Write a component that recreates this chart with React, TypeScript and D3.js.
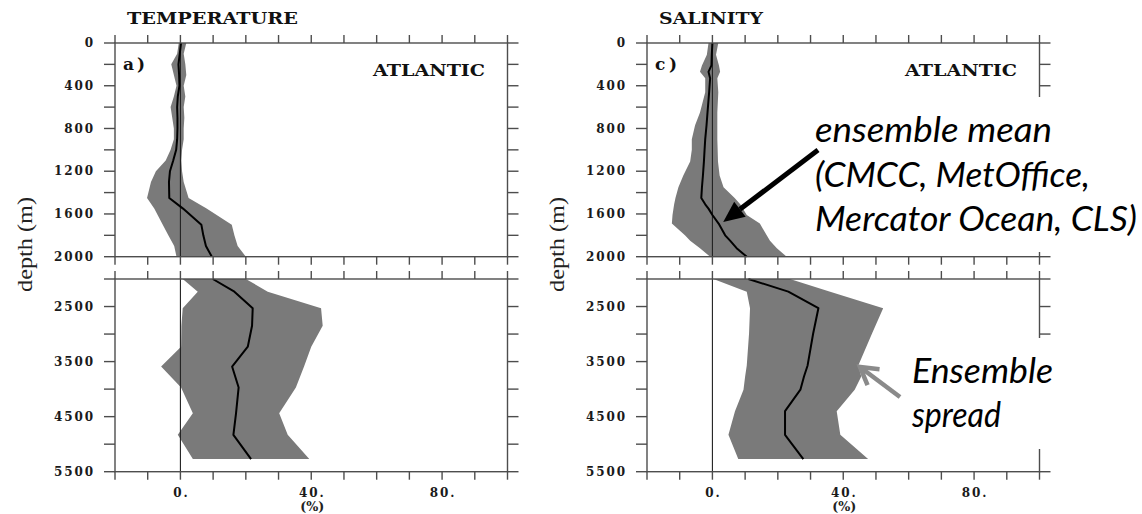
import React from 'react';
import * as d3 from 'd3';

// ---------------- DATA ----------------
// Temperature, upper section (0-2000 m)
const TEMP_TOP_DEPTH = [0, 100, 200, 300, 400, 500, 600, 700, 800, 900, 1000, 1100, 1200, 1300, 1450, 1550, 1700, 1800, 1900, 2000];
const TEMP_TOP_LOWER = [-0.5, -1.0, -2.8, -2.0, -1.2, -2.0, -3.0, -2.5, -2.0, -2.0, -3.0, -4.5, -7.5, -9.0, -10.2, -8.0, -5.4, -3.7, -1.9, -1.2];
const TEMP_TOP_MEAN = [0.2, -0.2, -0.6, -0.4, -0.3, -0.8, -1.0, -0.9, -0.9, -1.0, -1.3, -2.2, -3.2, -3.5, -3.4, 0.8, 6.4, 7.0, 7.8, 9.6];
const TEMP_TOP_UPPER = [1.8, 1.0, 1.5, 1.8, 1.0, 1.5, 1.0, 1.2, 1.0, 1.0, 0.5, 0.3, 0.5, 1.0, 2.5, 8.0, 15.7, 16.5, 17.5, 20.0];

// Temperature, lower section (2000-5500 m)
const TEMP_BOT_DEPTH = [2000, 2230, 2530, 2850, 3230, 3590, 3970, 4440, 4830, 5270];
const TEMP_BOT_LOWER = [0.7, 5.3, 0.7, 0.3, 0.2, -5.9, 0.2, 3.8, -0.8, 3.8];
const TEMP_BOT_MEAN = [9.9, 16.5, 22.1, 21.9, 20.6, 15.8, 17.8, 17.0, 16.2, 21.6];
const TEMP_BOT_UPPER = [20.0, 26.7, 43.0, 43.5, 40.0, 37.8, 35.3, 30.2, 32.8, 39.4];

// Salinity, upper section (0-2000 m)
const SAL_TOP_DEPTH = [0, 110, 210, 270, 330, 460, 650, 770, 900, 1000, 1110, 1240, 1350, 1450, 1510, 1550, 1610, 1690, 1800, 1850, 1920, 2000];
const SAL_TOP_LOWER = [-1.2, -1.7, -3.2, -3.8, -2.2, -2.2, -3.8, -5.3, -6.3, -6.3, -6.8, -8.9, -10.4, -11.3, -11.7, -11.9, -12.2, -12.4, -8.4, -6.8, -3.8, -0.7];
const SAL_TOP_MEAN = [0.0, -0.2, -0.3, -1.2, -0.7, -1.0, -1.5, -1.8, -2.2, -2.4, -2.6, -2.9, -3.2, -3.4, -2.2, -1.2, 0.0, 1.9, 3.9, 5.4, 7.4, 10.5];
const SAL_TOP_UPPER = [1.8, 1.1, 2.0, 2.35, 1.5, 1.8, 1.5, 1.5, 1.5, 1.6, 1.7, 2.2, 3.4, 6.8, 8.5, 9.3, 10.5, 14.5, 16.6, 17.6, 19.7, 22.7];

// Salinity, lower section (2000-5500 m)
const SAL_BOT_DEPTH = [2000, 2230, 2530, 2990, 3570, 3770, 4010, 4400, 4830, 5270];
const SAL_BOT_LOWER = [0.3, 10.5, 11.5, 11.2, 10.5, 10.0, 9.5, 6.9, 4.9, 7.9];
const SAL_BOT_MEAN = [11.0, 23.2, 32.4, 30.8, 29.1, 28.0, 26.9, 22.2, 22.2, 27.8];
const SAL_BOT_UPPER = [23.7, 36.0, 52.2, 48.8, 44.6, 45.5, 43.5, 38.0, 39.1, 47.6];

// Axis ticks and labels
const X_DOMAIN = [-20, 100];
const X_TICKS = [-20, -10, 0, 10, 20, 30, 40, 50, 60, 70, 80, 90, 100];
const X_TICK_LABELS = [0, 40, 80];
const TOP_DOMAIN = [0, 2000];
const TOP_TICKS = [0, 200, 400, 600, 800, 1000, 1200, 1400, 1600, 1800, 2000];
const TOP_TICK_LABELS = [0, 400, 800, 1200, 1600, 2000];
const BOT_DOMAIN = [2000, 5500];
const BOT_TICKS = [2000, 2500, 3000, 3500, 4000, 4500, 5000, 5500];
const BOT_TICK_LABELS = [2500, 3500, 4500, 5500];

const TITLES = ['TEMPERATURE', 'SALINITY'];
const TAGS = ['a)', 'c)'];
const REGION = 'ATLANTIC';

// ---------------- LAYOUT ----------------
const W = 1142;
const H = 514;
const TOP_Y: [number, number] = [43, 256.7];
const BOT_Y: [number, number] = [279, 471.7];
const PANEL_X: [number, number][] = [[115, 507.5], [647, 1039.5]];

const AXIS = '#4d4d4d';
const BAND = '#7a7a7a';
const SERIF = '"DejaVu Serif", serif';

type Sec = { depth: number[]; lower: number[]; mean: number[]; upper: number[] };

const PANELS: { top: Sec; bot: Sec }[] = [
  {
    top: { depth: TEMP_TOP_DEPTH, lower: TEMP_TOP_LOWER, mean: TEMP_TOP_MEAN, upper: TEMP_TOP_UPPER },
    bot: { depth: TEMP_BOT_DEPTH, lower: TEMP_BOT_LOWER, mean: TEMP_BOT_MEAN, upper: TEMP_BOT_UPPER },
  },
  {
    top: { depth: SAL_TOP_DEPTH, lower: SAL_TOP_LOWER, mean: SAL_TOP_MEAN, upper: SAL_TOP_UPPER },
    bot: { depth: SAL_BOT_DEPTH, lower: SAL_BOT_LOWER, mean: SAL_BOT_MEAN, upper: SAL_BOT_UPPER },
  },
];

function Section({ sec, x, y }: { sec: Sec; x: d3.ScaleLinear<number, number>; y: d3.ScaleLinear<number, number> }) {
  const idx = sec.depth.map((_, i) => i);
  const area = d3
    .area<number>()
    .y((i) => y(sec.depth[i]))
    .x0((i) => x(sec.lower[i]))
    .x1((i) => x(sec.upper[i]));
  const line = d3
    .line<number>()
    .x((i) => x(sec.mean[i]))
    .y((i) => y(sec.depth[i]));
  return (
    <g>
      <path d={area(idx) || ''} fill={BAND} stroke="none" />
      <line x1={x(0)} x2={x(0)} y1={y.range()[0]} y2={y.range()[1]} stroke="#222" strokeWidth={1.1} />
      <path d={line(idx) || ''} fill="none" stroke="#000" strokeWidth={2} strokeLinejoin="round" />
    </g>
  );
}

function Frame({
  x,
  y,
  ticks,
  labels,
  labelBottomX,
}: {
  x: d3.ScaleLinear<number, number>;
  y: d3.ScaleLinear<number, number>;
  ticks: number[];
  labels: number[];
  labelBottomX: boolean;
}) {
  const [xl, xr] = x.range();
  const [yt, yb] = y.range();
  const tx = 8; // x-axis tick length
  const ty = 11; // y-axis tick length
  return (
    <g stroke={AXIS} strokeWidth={1.4} fill="none">
      <rect x={xl} y={yt} width={xr - xl} height={yb - yt} />
      {X_TICKS.map((t) => (
        <g key={'xt' + t}>
          <line x1={x(t)} x2={x(t)} y1={yt} y2={yt - tx} />
          <line x1={x(t)} x2={x(t)} y1={yb} y2={yb + tx} />
        </g>
      ))}
      {ticks.map((t) => (
        <g key={'yt' + t}>
          <line x1={xl} x2={xl - ty} y1={y(t)} y2={y(t)} />
          <line x1={xr} x2={xr + ty} y1={y(t)} y2={y(t)} />
        </g>
      ))}
      <g stroke="none" fill="#1a1a1a" fontFamily={SERIF} fontWeight="bold" fontSize={12} style={{ letterSpacing: '1.9px' }}>
        {labels.map((t) => (
          <text key={'yl' + t} x={xl - 20} y={y(t) + 4.2} textAnchor="end">
            {String(t)}
          </text>
        ))}
        {labelBottomX &&
          X_TICK_LABELS.map((t) => (
            <text key={'xl' + t} x={x(t) + 1} y={yb + 25.5} textAnchor="middle">
              {t + '.'}
            </text>
          ))}
      </g>
    </g>
  );
}

export default function App() {
  const xScales = PANEL_X.map((r) => d3.scaleLinear().domain(X_DOMAIN).range(r));
  const yTop = d3.scaleLinear().domain(TOP_DOMAIN).range(TOP_Y);
  const yBot = d3.scaleLinear().domain(BOT_DOMAIN).range(BOT_Y);

  // annotation anchors in data units of the salinity panel
  const meanTip = { x: xScales[1](3.3), y: yTop(1675) };
  const meanStart = { x: 818, y: 150 };
  const spreadTip = { x: xScales[1](45.1), y: yBot(3598) };
  const spreadStart = { x: 900, y: 397 };

  const arrowHead = (s: { x: number; y: number }, t: { x: number; y: number }, len: number, half: number) => {
    const dx = t.x - s.x;
    const dy = t.y - s.y;
    const L = Math.hypot(dx, dy);
    const ux = dx / L;
    const uy = dy / L;
    const bx = t.x - len * ux;
    const by = t.y - len * uy;
    return {
      base: { x: bx, y: by },
      w1: { x: bx - half * uy, y: by + half * ux },
      w2: { x: bx + half * uy, y: by - half * ux },
    };
  };
  const h1 = arrowHead(meanStart, meanTip, 21, 9.5);
  const h2 = arrowHead(spreadStart, spreadTip, 17, 10);

  return (
    <svg width={W} height={H} style={{ position: 'absolute', left: 0, top: 0, background: '#fff' }}>
      <rect x={0} y={0} width={W} height={H} fill="#fff" />
      {PANELS.map((p, i) => {
        const x = xScales[i];
        const [xl, xr] = x.range();
        return (
          <g key={i}>
            <Section sec={p.top} x={x} y={yTop} />
            <Section sec={p.bot} x={x} y={yBot} />
            <Frame x={x} y={yTop} ticks={TOP_TICKS} labels={TOP_TICK_LABELS} labelBottomX={false} />
            <Frame x={x} y={yBot} ticks={BOT_TICKS} labels={BOT_TICK_LABELS} labelBottomX={true} />
            <text
              x={xl + 12}
              y={24}
              fontFamily={SERIF}
              fontWeight="bold"
              fontSize={17}
              textLength={i === 0 ? 171 : 104}
              lengthAdjust="spacingAndGlyphs"
              fill="#111"
            >
              {TITLES[i]}
            </text>
            <text x={xl + 8} y={69.5} fontFamily={SERIF} fontWeight="bold" fontSize={17} textLength={22} lengthAdjust="spacing" fill="#111">
              {TAGS[i]}
            </text>
            <text
              x={xr - 134.5}
              y={76}
              fontFamily={SERIF}
              fontWeight="bold"
              fontSize={17.5}
              textLength={112}
              lengthAdjust="spacingAndGlyphs"
              fill="#111"
            >
              {REGION}
            </text>
            <text
              transform={`translate(${xl - 83},244.5) rotate(-90)`}
              textAnchor="middle"
              fontFamily='"Liberation Serif", serif'
              fontSize={22}
              textLength={95}
              lengthAdjust="spacingAndGlyphs"
              fill="#222"
            >
              depth (m)
            </text>
            <text
              x={x(40) - 11}
              y={511}
              fontFamily={SERIF}
              fontWeight="bold"
              fontSize={12}
              textLength={24}
              lengthAdjust="spacingAndGlyphs"
              fill="#222"
            >
              (%)
            </text>
          </g>
        );
      })}

      {/* white boxes behind the annotation texts */}
      <rect x={808} y={97} width={W - 808} height={155} fill="#fff" />
      <rect x={893} y={338} width={W - 893} height={111} fill="#fff" />

      {/* ensemble mean annotation */}
      <line x1={meanStart.x} y1={meanStart.y} x2={h1.base.x} y2={h1.base.y} stroke="#000" strokeWidth={5} />
      <polygon points={`${meanTip.x},${meanTip.y} ${h1.w1.x},${h1.w1.y} ${h1.w2.x},${h1.w2.y}`} fill="#000" />
      <g fontFamily='Lato, "Open Sans", sans-serif' fontStyle="italic" fontSize={35} fill="#000">
        <text x={815} y={142} textLength={237} lengthAdjust="spacingAndGlyphs">
          ensemble mean
        </text>
        <text x={815} y={187} textLength={275} lengthAdjust="spacingAndGlyphs">
          (CMCC, MetOffice,
        </text>
        <text x={815} y={230.5} textLength={322} lengthAdjust="spacingAndGlyphs">
          Mercator Ocean, CLS)
        </text>
        <text x={912} y={383} textLength={141} lengthAdjust="spacingAndGlyphs">
          Ensemble
        </text>
        <text x={912} y={427} textLength={89} lengthAdjust="spacingAndGlyphs">
          spread
        </text>
      </g>

      {/* ensemble spread arrow (grey, open head) */}
      <g stroke="#8a8a8a" strokeWidth={4.5} fill="none" strokeLinecap="butt" strokeLinejoin="miter">
        <line x1={spreadStart.x} y1={spreadStart.y} x2={spreadTip.x + 2} y2={spreadTip.y + 1.5} />
        <polyline points={`${h2.w1.x},${h2.w1.y} ${spreadTip.x},${spreadTip.y} ${h2.w2.x},${h2.w2.y}`} />
      </g>
    </svg>
  );
}
